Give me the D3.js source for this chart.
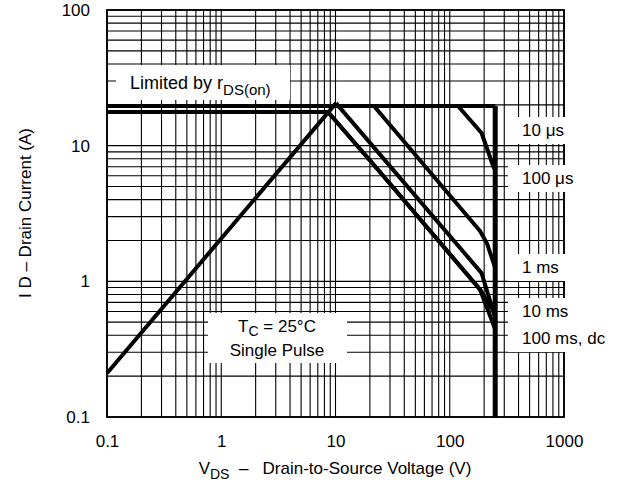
<!DOCTYPE html>
<html>
<head>
<meta charset="utf-8">
<script src="https://cdn.jsdelivr.net/npm/d3@7"></script>
<style>
  body { margin: 0; background: #fff; }
  svg text { font-family: "Liberation Sans", Arial, Helvetica, sans-serif; fill: #000; white-space: pre; }
</style>
</head>
<body>
<svg id="chart" width="628" height="486"></svg>
<script>
// axis ticks
var xTicks = [0.1, 1, 10, 100, 1000],
    yTicks = [0.1, 1, 10, 100];

// safe operating area boundaries, [VDS (V), ID (A)]
var pulseLimit = [[0.1, 19.6], [250, 19.6]],
    currentLimit = [[0.1, 17.7], [8.6, 17.7]],
    rdsOn = [[0.1, 0.21], [10.1, 20.6]],
    vdsMax = [[250, 19.6], [250, 0.1]],
    us10 = [[118, 19.6], [190, 12.4], [238, 7.2], [250, 6.6]],
    us100 = [[21.7, 19.6], [184, 2.35], [212, 1.9], [248, 1.28]],
    ms1 = [[10.1, 20.6], [190, 1.15], [248, 0.55]],
    ms10 = [[8.6, 17.7], [24.5, 6.4], [184, 0.87], [248, 0.58]],
    dc = [[8.6, 17.7], [24.5, 6.4], [184, 0.87], [248, 0.45]];

var curveLabels = [
  {text: "10 \u03bcs", y: 130},
  {text: "100 \u03bcs", y: 178},
  {text: "1 ms", y: 267},
  {text: "10 ms", y: 311},
  {text: "100 ms, dc", y: 338}
];

var margin = {top: 10, right: 64, bottom: 69, left: 107},
    width = 628 - margin.left - margin.right,
    height = 486 - margin.top - margin.bottom;

var svg = d3.select("#chart");
var g = svg.append("g").attr("transform", `translate(${margin.left},${margin.top})`);

var x = d3.scaleLog().domain([0.1, 1000]).range([0, width]);
var y = d3.scaleLog().domain([0.1, 100]).range([height, 0]);

/* grid: 1..9 in every decade */
function gridValues(lo, hi) {
  var out = [];
  for (var d = lo; d < hi * 0.999; d *= 10) {
    for (var k = 1; k <= 9; k++) out.push(d * k);
  }
  out.push(hi);
  return out;
}

g.append("g").selectAll("line")
  .data(gridValues(0.1, 1000))
  .enter().append("line")
  .attr("x1", (d) => x(d)).attr("x2", (d) => x(d))
  .attr("y1", 0).attr("y2", height)
  .attr("stroke", "#000").attr("stroke-width", 1.1);

g.append("g").selectAll("line")
  .data(gridValues(0.1, 100))
  .enter().append("line")
  .attr("y1", (d) => y(d)).attr("y2", (d) => y(d))
  .attr("x1", 0).attr("x2", width)
  .attr("stroke", "#000").attr("stroke-width", 1.1);

g.append("rect")
  .attr("width", width).attr("height", height)
  .attr("fill", "none").attr("stroke", "#000").attr("stroke-width", 1.8);

/* axes, labels only */
var fmt = (d) => String(d);
var xAxis = g.append("g").attr("transform", `translate(0,${height})`)
  .call(d3.axisBottom(x).tickValues(xTicks).tickFormat(fmt).tickSize(0).tickPadding(18));
var yAxis = g.append("g")
  .call(d3.axisLeft(y).tickValues(yTicks).tickFormat(fmt).tickSize(0).tickPadding(17));
[xAxis, yAxis].forEach(function(a) {
  a.select(".domain").remove();
  a.selectAll("text").attr("font-size", 17).attr("font-family", null);
});

/* curves */
var line = d3.line().x((d) => x(d[0])).y((d) => y(d[1]));
var curves = [pulseLimit, currentLimit, rdsOn, us10, us100, ms1, ms10, dc];
g.append("g").selectAll("path")
  .data(curves)
  .enter().append("path")
  .attr("d", line)
  .attr("fill", "none")
  .attr("stroke", "#000")
  .attr("stroke-width", 4)
  .attr("stroke-linejoin", "round");
g.append("path")
  .attr("d", line(vdsMax))
  .attr("fill", "none").attr("stroke", "#000").attr("stroke-width", 5);

/* annotation boxes */
function box(x0, y0, w, h) {
  svg.append("rect").attr("x", x0).attr("y", y0).attr("width", w).attr("height", h).attr("fill", "#fff");
}

box(116, 65, 174, 35);
var lim = svg.append("text").attr("x", 130).attr("y", 89).attr("font-size", 18);
lim.append("tspan").text("Limited by r");
lim.append("tspan").attr("dy", 6).attr("font-size", 15).text("DS(on)");

box(208, 313, 139, 50);
var tc = svg.append("text").attr("x", 277).attr("y", 332).attr("font-size", 17).attr("text-anchor", "middle");
tc.append("tspan").text("T");
tc.append("tspan").attr("dy", 4).attr("font-size", 14).text("C");
tc.append("tspan").attr("dy", -4).text(" = 25\u00b0C");
svg.append("text").attr("x", 277).attr("y", 356).attr("font-size", 17)
  .attr("text-anchor", "middle").text("Single Pulse");

curveLabels.forEach(function(l) {
  box(508, l.y - 13, 120, 27);
  svg.append("text").attr("x", 522).attr("y", l.y + 6).attr("font-size", 17).text(l.text);
});

/* axis titles */
var xt = svg.append("text").attr("x", 335).attr("y", 474).attr("font-size", 17).attr("text-anchor", "middle");
xt.append("tspan").text("V");
xt.append("tspan").attr("dy", 5).attr("font-size", 14).text("DS");
xt.append("tspan").attr("dy", -5).text("\u00a0\u00a0\u2013\u00a0\u00a0 Drain-to-Source Voltage (V)");

svg.append("text")
  .attr("transform", "translate(31,213) rotate(-90)")
  .attr("font-size", 17).attr("text-anchor", "middle")
  .text("I D \u2013 Drain Current (A)");
</script>
</body>
</html>
